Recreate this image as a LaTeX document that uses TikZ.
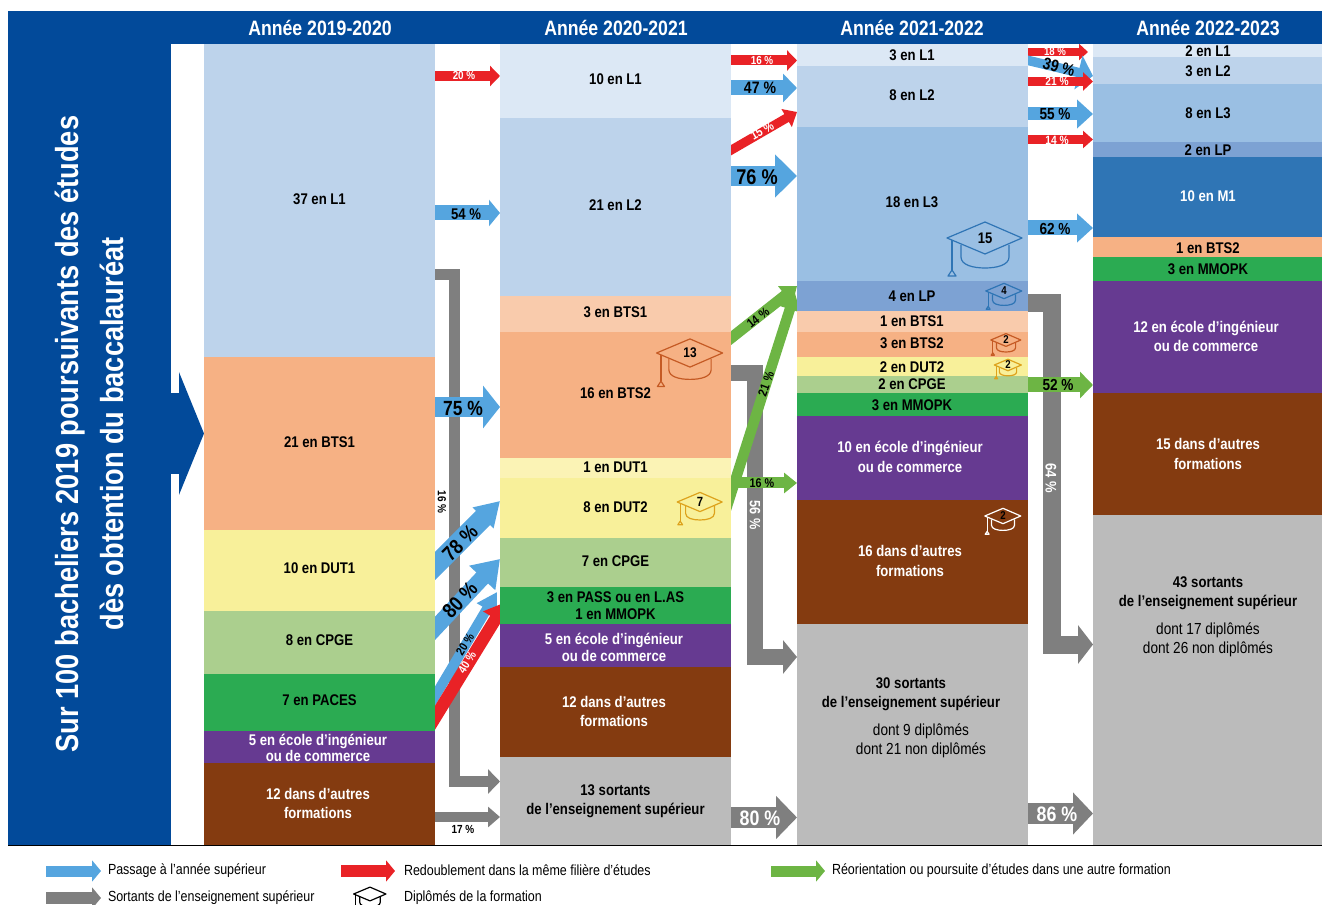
\documentclass[tikz,border=0pt]{standalone}
\usepackage{fontspec}
\setmainfont{Liberation Sans}[FakeStretch=0.85]
\usetikzlibrary{arrows.meta}
\pgfdeclarelayer{arrowlayer}
\pgfsetlayers{arrowlayer,main}
\definecolor{navy}{HTML}{024A9A}
\definecolor{cLa}{HTML}{DCE8F5}
\definecolor{cLb}{HTML}{BDD3EB}
\definecolor{cLc}{HTML}{9ABFE3}
\definecolor{cLP}{HTML}{7DA2D3}
\definecolor{cMa}{HTML}{2F75B5}
\definecolor{cBa}{HTML}{F9CBAC}
\definecolor{cBb}{HTML}{F6B184}
\definecolor{cDa}{HTML}{FBF3B5}
\definecolor{cDb}{HTML}{F8F09A}
\definecolor{cCP}{HTML}{ABCF8E}
\definecolor{cPA}{HTML}{2BAB52}
\definecolor{cEC}{HTML}{663A91}
\definecolor{cAU}{HTML}{843B10}
\definecolor{cSO}{HTML}{BBBBBB}
\definecolor{ablue}{HTML}{55A5DF}
\definecolor{ared}{HTML}{E92226}
\definecolor{agreen}{HTML}{6DB544}
\definecolor{agray}{HTML}{7F7F7F}
\definecolor{horange}{HTML}{C55A24}
\definecolor{hyellow}{HTML}{DDA21C}
\definecolor{hblue}{HTML}{2F75B5}
\tikzset{
  boxn/.style={inner sep=0pt,outer sep=0pt,draw=none,anchor=center},
  lb/.style={inner sep=0pt,outer sep=0pt,align=center,font=\fontsize{11.6}{14.6}\selectfont\bfseries},
  lbs/.style={lb,font=\fontsize{11.6}{12.6}\selectfont\bfseries},
  reg/.style={inner sep=0pt,outer sep=0pt,align=center,font=\fontsize{12}{14}\selectfont},
  leg/.style={inner sep=0pt,outer sep=0pt,anchor=west,font=\fontsize{11}{12}\selectfont},
  pct/.style={inner sep=0pt,outer sep=0pt,font=\fontsize{#1}{#1}\selectfont\bfseries},
  head/.style={inner sep=0pt,outer sep=0pt,text=white,font=\fontsize{15.6}{17}\selectfont\bfseries},
}
\newcommand\bx[6]{%
  \pgfmathsetlengthmacro\bw{(#4-#2)*0.75pt}%
  \pgfmathsetlengthmacro\bh{(#5-#3)*0.75pt}%
  \node[boxn,fill=#6,minimum width=\bw,minimum height=\bh] (#1) at ({(#2+#4)/2},{(#3+#5)/2}) {};}
\newcommand\fat[5]{%
  \pgfmathsetlengthmacro\fw{#2*0.75pt}%
  \pgfmathsetlengthmacro\fh{#3*0.75pt}%
  \pgfmathsetlengthmacro\fl{#4*0.75pt}%
  \draw[draw=#1,line width=\fw,line join=miter,-{Triangle[length=\fl,width=\fh]}] #5;}
% name x y scale colour number-size number
\newcommand\mortar[7]{%
  \begin{scope}[shift={(#2,#3)},scale=#4,draw=#5,line width=0.9pt,line join=round]
    \draw (-38,0) -- (0,-16) -- (37,0) -- (0,16) -- cycle;
    \draw (-24,7) -- (-24,19) .. controls (-24,27) and (-12,30) .. (0,30) .. controls (12,30) and (24,27) .. (24,19) -- (24,7);
    \draw (-33,2) -- (-33,32);
    \draw (-33,32) -- (-29,38) -- (-37,38) -- cycle;
  \end{scope}
  \node[pct=#6] (#1) at (#2,#3) {#7};}
\begin{document}
\begin{tikzpicture}[x=0.75pt,y=-0.75pt]
\useasboundingbox (0,0) rectangle (1322,905);
% panels
\bx{hdr}{8}{11}{1322}{44}{navy}
\bx{side}{8}{44}{171}{845}{navy}
% column A
\bx{aA}{204}{44}{435}{357}{cLb}
\bx{aB}{204}{357}{435}{530}{cBb}
\bx{aC}{204}{530}{435}{611}{cDb}
\bx{aD}{204}{611}{435}{674}{cCP}
\bx{aE}{204}{674}{435}{731}{cPA}
\bx{aF}{204}{731}{435}{763}{cEC}
\bx{aG}{204}{763}{435}{845}{cAU}
% column B
\bx{bA}{500}{44}{731}{118}{cLa}
\bx{bB}{500}{118}{731}{296}{cLb}
\bx{bC}{500}{296}{731}{332}{cBa}
\bx{bD}{500}{332}{731}{458}{cBb}
\bx{bE}{500}{458}{731}{478}{cDa}
\bx{bF}{500}{478}{731}{538}{cDb}
\bx{bG}{500}{538}{731}{587}{cCP}
\bx{bH}{500}{587}{731}{624}{cPA}
\bx{bI}{500}{624}{731}{667}{cEC}
\bx{bJ}{500}{667}{731}{757}{cAU}
\bx{bK}{500}{757}{731}{845}{cSO}
% column C
\bx{cA}{797}{44}{1028}{66}{cLa}
\bx{cB}{797}{66}{1028}{127}{cLb}
\bx{cC}{797}{127}{1028}{281}{cLc}
\bx{cD}{797}{281}{1028}{311}{cLP}
\bx{cE}{797}{311}{1028}{332}{cBa}
\bx{cF}{797}{332}{1028}{357}{cBb}
\bx{cG}{797}{357}{1028}{376}{cDb}
\bx{cH}{797}{376}{1028}{393}{cCP}
\bx{cI}{797}{393}{1028}{416}{cPA}
\bx{cJ}{797}{416}{1028}{500}{cEC}
\bx{cK}{797}{500}{1028}{624}{cAU}
\bx{cL}{797}{624}{1028}{845}{cSO}
% column D
\bx{dA}{1093}{44}{1322}{57}{cLa}
\bx{dB}{1093}{57}{1322}{84}{cLb}
\bx{dC}{1093}{84}{1322}{142}{cLc}
\bx{dD}{1093}{142}{1322}{157}{cLP}
\bx{dE}{1093}{157}{1322}{237}{cMa}
\bx{dF}{1093}{237}{1322}{257}{cBb}
\bx{dG}{1093}{257}{1322}{281}{cPA}
\bx{dH}{1093}{281}{1322}{393}{cEC}
\bx{dI}{1093}{393}{1322}{515}{cAU}
\bx{dJ}{1093}{515}{1322}{845}{cSO}
\draw[black,line width=0.7pt] (8,845) -- (1322,845);
% free ends of the slanted arrows (hidden behind the columns)
\coordinate (s78) at (425,576);
\coordinate (s80) at (425,639);
\coordinate (s20) at (425,713);
\coordinate (s40) at (425,734);
\coordinate (t20) at (497,592);
\coordinate (t40) at (506,602);
\coordinate (t21) at (795,293);
\coordinate (t18) at (1088,52);
\coordinate (s15) at (721,156);
\coordinate (s14) at (721,346);
\coordinate (s21) at (721,525);
\coordinate (s39) at (1018,58);
\coordinate (k1) at (454.5,275);
\coordinate (k2) at (755,373);
\coordinate (k3) at (1052,303);
\begin{pgfonlayer}{arrowlayer}
% year 1 -> 2
\fat{agray}{11}{24}{12}{(aA.east |- 0,275) -- (k1) |- (bK.west |- 0,781.5)}
\fat{agray}{10}{20}{12}{(aG.east |- 0,817) -- (bK.west |- 0,817)}
\fat{ared}{10}{20}{10}{(aA.east |- 0,76) -- (bA.west |- 0,76)}
\fat{ablue}{15}{26}{11}{(aA.east |- 0,213) -- (bB.west |- 0,213)}
\fat{ablue}{20}{42}{17}{(aB.east |- 0,407) -- (bD.west |- 0,407)}
\fat{ablue}{20}{28}{24}{(s78) -- (bF.west |- 0,501)}
\fat{ablue}{16}{34}{26}{(s80) -- (bG.west |- 0,559)}
\fat{ablue}{10}{22}{20}{(s20) -- (t20)}
\fat{ared}{12.5}{28}{20}{(s40) -- (t40)}
% year 2 -> 3
\fat{agray}{16.5}{33}{14}{(bD.east |- 0,373) -- (k2) |- (cL.west |- 0,657)}
\fat{ared}{10}{20}{10}{(bA.east |- 0,60.5) -- (cA.west |- 0,60.5)}
\fat{ablue}{15}{28}{14}{(bA.east |- 0,88) -- (cB.west |- 0,88)}
\fat{ared}{9}{20}{12}{(s15) -- (cB.west |- 0,112)}
\fat{ablue}{20}{42}{22}{(bB.east |- 0,176) -- (cC.west |- 0,176)}
\fat{agreen}{11}{22}{15}{(s14) -- (cC.west |- 0,286)}
\fat{agreen}{10.5}{21}{17}{(s21) -- (t21)}
\fat{agreen}{11}{20}{13}{(bF.east |- 0,483) -- (cJ.west |- 0,483)}
\fat{agray}{21}{42}{21}{(bK.east |- 0,817.5) -- (cL.west |- 0,817.5)}
% year 3 -> 4
\fat{agray}{18}{38}{15}{(cD.east |- 0,303) -- (k3) |- (dJ.west |- 0,644.5)}
\fat{ared}{8}{16}{9}{(cA.east |- 0,52) -- (t18)}
\fat{ablue}{9.5}{34}{15}{(s39) -- (dB.west |- 0,76)}
\fat{ared}{9}{18}{10}{(cB.east |- 0,81.5) -- (dB.west |- 0,81.5)}
\fat{ablue}{13}{28}{16}{(cB.east |- 0,114) -- (dC.west |- 0,114)}
\fat{ared}{9}{17}{10}{(cC.east |- 0,139.5) -- (dD.west |- 0,139.5)}
\fat{ablue}{15}{28}{16}{(cC.east |- 0,228) -- (dE.west |- 0,228)}
\fat{agreen}{15}{26}{13}{(cH.east |- 0,385) -- (dI.west |- 0,385)}
\fat{agray}{21}{41}{20}{(cL.east |- 0,813.5) -- (dJ.west |- 0,813.5)}
% entry arrow
\fat{navy}{81}{122}{25}{(side.east |- 0,433.5) -- (aB.west |- 0,433.5)}
\end{pgfonlayer}
% headers
\node[head] (h1) at (320,28) {Année 2019-2020};
\node[head] (h2) at (616,28) {Année 2020-2021};
\node[head] (h3) at (912,28) {Année 2021-2022};
\node[head] (h4) at (1208,28) {Année 2022-2023};
% side title
\node[inner sep=0pt,text=white,rotate=90,font=\fontsize{24}{28}\selectfont\bfseries] (t1) at (70,434) {Sur 100 bacheliers 2019 poursuivants des études};
\node[inner sep=0pt,text=white,rotate=90,font=\fontsize{24}{28}\selectfont\bfseries] (t2) at (112,434) {dès obtention du baccalauréat};
% column A texts
\node[lb] (la1) at (319.5,199) {37 en L1};
\node[lb] (la2) at (319.5,442) {21 en BTS1};
\node[lb] (la3) at (319.5,568.5) {10 en DUT1};
\node[lb] (la4) at (319.5,640.5) {8 en CPGE};
\node[lb] (la5) at (319.5,700.5) {7 en PACES};
\node[lbs,text=white] (la6) at (318,748) {5 en école d’ingénieur\\ou de commerce};
\node[lb,text=white] (la7) at (318,803.5) {12 dans d’autres\\formations};
% column B texts
\node[lb] (lb1) at (615.5,79.5) {10 en L1};
\node[lb] (lb2) at (615.5,205.5) {21 en L2};
\node[lb] (lb3) at (615.5,312.5) {3 en BTS1};
\node[lb] (lb4) at (615.5,393.5) {16 en BTS2};
\node[lb] (lb5) at (615.5,467) {1 en DUT1};
\node[lb] (lb6) at (615.5,507.5) {8 en DUT2};
\node[lb] (lb7) at (615.5,561.5) {7 en CPGE};
\node[lbs] (lb8) at (615.5,605.5) {3 en PASS ou en L.AS\\1 en MMOPK};
\node[lbs,text=white] (lb9) at (614,647.5) {5 en école d’ingénieur\\ou de commerce};
\node[lb,text=white] (lb10) at (614,711.5) {12 dans d’autres\\formations};
\node[lb] (lb11) at (615.5,801.5) {13 sortants\\de l’enseignement supérieur};
% column C texts
\node[lb] (lc1) at (912,55) {3 en L1};
\node[lb] (lc2) at (912,95) {8 en L2};
\node[lb] (lc3) at (912,202.5) {18 en L3};
\node[lb] (lc4) at (912,296.5) {4 en LP};
\node[lb] (lc5) at (912,321.5) {1 en BTS1};
\node[lb] (lc6) at (912,343) {3 en BTS2};
\node[lb] (lc7) at (912,367) {2 en DUT2};
\node[lb] (lc8) at (912,384.5) {2 en CPGE};
\node[lb] (lc9) at (912,405) {3 en MMOPK};
\node[lb,text=white] (lc10) at (910,457) {10 en école d’ingénieur\\ou de commerce};
\node[lb,text=white] (lc11) at (910,561) {16 dans d’autres\\formations};
\node[lb] (lc12) at (911,694.5) {30 sortants\\de l’enseignement supérieur};
\node[reg] (lc13) at (921,740.5) {dont 9 diplômés\\dont 21 non diplômés};
% column D texts
\node[lb] (ld1) at (1208,51) {2 en L1};
\node[lb] (ld2) at (1208,71.5) {3 en L2};
\node[lb] (ld3) at (1208,113.5) {8 en L3};
\node[lb] (ld4) at (1208,150.5) {2 en LP};
\node[lb,text=white] (ld5) at (1208,196.5) {10 en M1};
\node[lb] (ld6) at (1208,248) {1 en BTS2};
\node[lb] (ld7) at (1208,269.5) {3 en MMOPK};
\node[lb,text=white] (ld8) at (1206,336.5) {12 en école d’ingénieur\\ou de commerce};
\node[lb,text=white] (ld9) at (1208,454) {15 dans d’autres\\formations};
\node[lb] (ld10) at (1208,593) {43 sortants\\de l’enseignement supérieur};
\node[reg] (ld11) at (1208,639.5) {dont 17 diplômés\\dont 26 non diplômés};
% percentages
\node[pct=8.7,text=white] (p1) at (464,76) {20 \%};
\node[pct=11.6] (p2) at (466,214) {54 \%};
\node[pct=15.4] (p3) at (463,408) {75 \%};
\node[pct=15.6,rotate=45] (p4) at (460,543) {78 \%};
\node[pct=15.6,rotate=47] (p5) at (460,600) {80 \%};
\node[pct=9,rotate=58] (p6) at (465,644) {20 \%};
\node[pct=9,rotate=58,text=white] (p7) at (467,662) {40 \%};
\node[pct=8.8,rotate=-90] (p8) at (442,502) {16 \%};
\node[pct=8.8] (p9) at (463,829) {17 \%};
\node[pct=8.7,text=white] (p10) at (762,61) {16 \%};
\node[pct=12.4] (p11) at (760,88) {47 \%};
\node[pct=9.5,rotate=30,text=white] (p12) at (762,131) {15 \%};
\node[pct=16] (p13) at (757,177) {76 \%};
\node[pct=9.5,rotate=38] (p14) at (758,318) {14 \%};
\node[pct=9.5,rotate=70] (p15) at (766,384) {21 \%};
\node[pct=11.2,rotate=-90,text=white] (p16) at (755,515) {56 \%};
\node[pct=9.5] (p17) at (762,483) {16 \%};
\node[pct=15.7,text=white] (p18) at (760,818) {80 \%};
\node[pct=8.5,text=white] (p19) at (1055,52) {18 \%};
\node[pct=12.5,rotate=-15] (p20) at (1059,67) {39 \%};
\node[pct=9,text=white] (p21) at (1057,81) {21 \%};
\node[pct=12,] (p22) at (1055,114.5) {55 \%};
\node[pct=9,text=white] (p23) at (1057,140) {14 \%};
\node[pct=12] (p24) at (1055,228.5) {62 \%};
\node[pct=11.5,rotate=-90,text=white] (p25) at (1051,478) {64 \%};
\node[pct=12] (p26) at (1058,385) {52 \%};
\node[pct=15.7,text=white] (p27) at (1057,814) {86 \%};
% mortar boards
\mortar{m1}{690}{353}{0.88}{horange}{10.5}{13}
\mortar{m2}{700}{502}{0.6}{hyellow}{10}{7}
\mortar{m3}{985}{238}{1}{hblue}{11.5}{15}
\mortar{m4}{1004}{291}{0.48}{hblue}{8.5}{4}
\mortar{m5}{1006}{340}{0.4}{horange}{8.5}{2}
\mortar{m6}{1008}{365}{0.36}{hyellow}{8.5}{2}
\mortar{m7}{1003}{516}{0.48}{white}{8.5}{2}
% legend
\coordinate (g1a) at (46,871); \coordinate (g1b) at (101,871);
\coordinate (g2a) at (341,871); \coordinate (g2b) at (395,871);
\coordinate (g3a) at (771,871); \coordinate (g3b) at (825,871);
\coordinate (g4a) at (46,898); \coordinate (g4b) at (101,898);
\fat{ablue}{11}{21}{9}{(g1a) -- (g1b)}
\fat{ared}{12}{21}{9}{(g2a) -- (g2b)}
\fat{agreen}{11}{21}{9}{(g3a) -- (g3b)}
\fat{agray}{12}{21}{9}{(g4a) -- (g4b)}
\node[leg] (e1) at (108,870.5) {Passage à l’année supérieur};
\node[leg] (e2) at (404,870.5) {Redoublement dans la même filière d'études};
\node[leg] (e3) at (832,870.5) {Réorientation ou poursuite d’études dans une autre formation};
\node[leg] (e4) at (108,898) {Sortants de l’enseignement supérieur};
\node[leg] (e5) at (404,898) {Diplômés de la formation};
\begin{scope}
\clip (340,880) rectangle (400,905);
\mortar{m8}{370}{894}{0.43}{black}{7}{}
\end{scope}
\end{tikzpicture}
\end{document}
